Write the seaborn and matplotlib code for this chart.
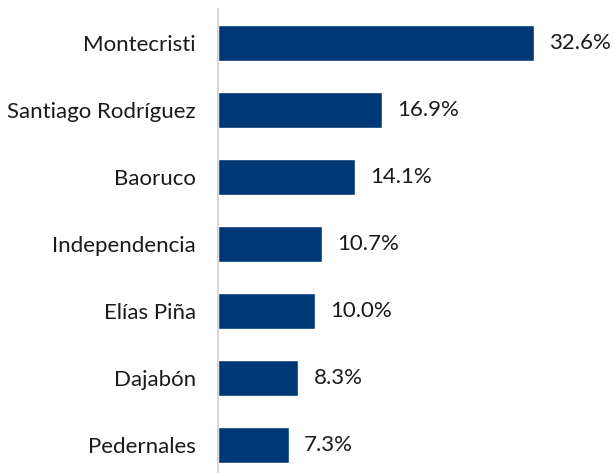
import matplotlib
matplotlib.use("Agg")
import matplotlib.pyplot as plt
import seaborn as sns
import pandas as pd

provinces = ["Montecristi", "Santiago Rodríguez", "Baoruco", "Independencia",
             "Elías Piña", "Dajabón", "Pedernales"]
shares = [32.6, 16.9, 14.1, 10.7, 10.0, 8.3, 7.3]

df = pd.DataFrame({"provincia": provinces, "pct": shares})

sns.set_style("white")
plt.rcParams["font.family"] = ["Lato", "DejaVu Sans"]

fig = plt.figure(figsize=(6.13, 4.73), dpi=100)
ax = fig.add_axes([0.3556, 0.0, 0.633, 0.98])

sns.barplot(data=df, x="pct", y="provincia", color="#003876", width=0.55,
            saturation=1, ax=ax)

ax.bar_label(ax.containers[0], labels=[f"{v:.1f}%" for v in shares],
             padding=11, fontsize=16, color="#1a1a1a")

ax.set_xlim(0, 40)
ax.set_ylim(6.418, -0.5)
ax.set_xlabel("")
ax.set_ylabel("")
ax.set_xticks([])
ax.tick_params(axis="y", length=0, pad=16, labelsize=16, labelcolor="#1a1a1a")
for side in ["top", "right", "bottom"]:
    ax.spines[side].set_visible(False)
ax.spines["left"].set_color("#d9d9d9")
ax.spines["left"].set_linewidth(1.5)

fig.savefig("out.png", dpi=100)
